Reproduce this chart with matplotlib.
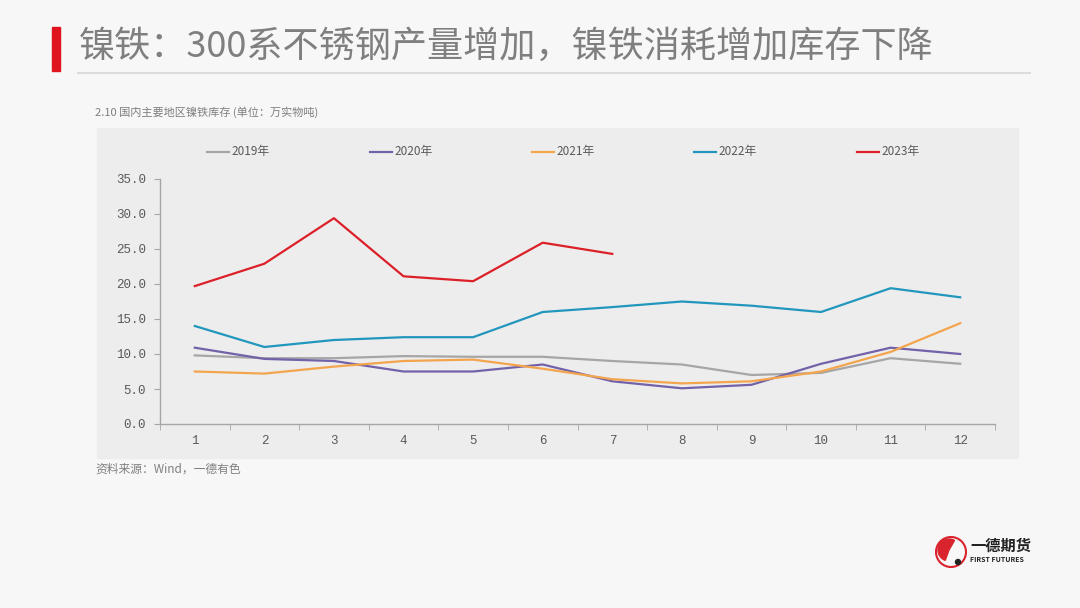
import matplotlib
matplotlib.use('Agg')
import matplotlib.pyplot as plt
import matplotlib.patches as patches
from matplotlib.transforms import IdentityTransform
from matplotlib.ticker import FixedLocator, FormatStrFormatter

plt.rcParams['font.family'] = ['Noto Sans CJK SC', 'DejaVu Sans']

# DATA
months = [1, 2, 3, 4, 5, 6, 7, 8, 9, 10, 11, 12]
month_labels = [str(m) for m in months]
y2019 = [9.8, 9.4, 9.4, 9.7, 9.6, 9.6, 9.0, 8.5, 7.0, 7.3, 9.4, 8.6]
y2020 = [10.9, 9.3, 9.0, 7.5, 7.5, 8.5, 6.1, 5.1, 5.6, 8.6, 10.9, 10.0]
y2021 = [7.5, 7.2, 8.2, 9.0, 9.2, 7.9, 6.4, 5.8, 6.1, 7.5, 10.3, 14.4]
y2022 = [14.0, 11.0, 12.0, 12.4, 12.4, 16.0, 16.7, 17.5, 16.9, 16.0, 19.4, 18.1]
y2023 = [19.7, 22.9, 29.4, 21.1, 20.4, 25.9, 24.3]
series_names = ['2019年', '2020年', '2021年', '2022年', '2023年']
colors = ['#a6a6a6', '#7262a9', '#f3a54e', '#2297bd', '#dc2029']

W, H = 1080, 608
fig = plt.figure(figsize=(W / 100, H / 100), dpi=100)
fig.patch.set_facecolor('#f7f7f7')

def fx(px):
    return px / W

def fy(py):
    return 1 - py / H

# HEADER
fig.patches.append(patches.Rectangle((fx(52), fy(71)), fx(8), 44 / H, transform=fig.transFigure,
                                     color='#e0141e', zorder=2))
fig.add_artist(plt.Line2D([fx(78), fx(1030)], [fy(73), fy(73)], transform=fig.transFigure,
                          color='#dcdcdc', lw=1.5))
fig.text(fx(79), fy(47), '镍铁：300系不锈钢产量增加，镍铁消耗增加库存下降', fontsize=26,
         fontweight='light', color='#7f7f7f', va='center', ha='left')
fig.text(fx(95), fy(112), '2.10 国内主要地区镍铁库存 (单位：万实物吨)', fontsize=8,
         color='#7f7f7f', va='center', ha='left')

# CHART PANEL
fig.patches.append(patches.Rectangle((fx(97), fy(458)), fx(1018 - 97), (458 - 128) / H,
                                     transform=fig.transFigure, color='#eeeded', zorder=-5))

ax = fig.add_axes([fx(160), fy(424), fx(995 - 160), (424 - 179) / H], zorder=2)
ax.set_facecolor('none')

data = [y2019, y2020, y2021, y2022, y2023]
for vals, name, c in zip(data, series_names, colors):
    ax.plot(months[:len(vals)], vals, color=c, lw=1.6, label=name)

ax.set_xlim(0.5, 12.5)
ax.set_ylim(0, 35)
ax.yaxis.set_major_locator(FixedLocator([0, 5, 10, 15, 20, 25, 30, 35]))
ax.yaxis.set_major_formatter(FormatStrFormatter('%.1f'))
ax.set_xticks(months)
ax.set_xticklabels(month_labels)
ax.set_xticks([m + 0.5 for m in range(0, 13)], minor=True)
ax.tick_params(axis='x', which='major', length=0, pad=8, labelsize=9, labelcolor='#595959')
ax.tick_params(axis='x', which='minor', length=4, color='#a6a6a6', direction='out')
ax.tick_params(axis='y', length=4, color='#a6a6a6', labelsize=9, labelcolor='#595959', pad=6)
for lab in ax.get_xticklabels() + ax.get_yticklabels():
    lab.set_family(['Liberation Mono', 'DejaVu Sans Mono'])
for s in ['top', 'right']:
    ax.spines[s].set_visible(False)
for s in ['left', 'bottom']:
    ax.spines[s].set_color('#a6a6a6')
    ax.spines[s].set_linewidth(1)

# LEGEND
leg_x = [207, 370, 532, 694, 857]
for px, name, c in zip(leg_x, series_names, colors):
    fig.add_artist(plt.Line2D([fx(px), fx(px + 22)], [fy(152), fy(152)], transform=fig.transFigure,
                              color=c, lw=1.6))
    fig.text(fx(px + 24), fy(152), name, fontsize=8.5, color='#595959', va='center', ha='left')

# SOURCE
fig.text(fx(95), fy(469), '资料来源：Wind，一德有色', fontsize=8.5, color='#7f7f7f',
         va='center', ha='left')

# LOGO (pixel coordinates, origin bottom-left)
px_t = IdentityTransform()
fig.patches.append(patches.Circle((951, H - 552), 15, transform=px_t,
                                  facecolor='none', edgecolor='#d9232d', lw=1.5))
fig.patches.append(patches.Wedge((949, H - 550), 11, 60, 250, transform=px_t,
                                 color='#d9232d'))
fig.patches.append(patches.Circle((958, H - 562), 2.5, transform=px_t, color='#222222'))
fig.text(fx(970), fy(546), '一德期货', fontsize=11, fontweight='bold', color='#222222',
         va='center', ha='left')
fig.text(fx(970), fy(560), 'FIRST FUTURES', fontsize=5, fontweight='bold', color='#222222',
         va='center', ha='left')

fig.savefig('out.png', dpi=100, facecolor=fig.get_facecolor())
